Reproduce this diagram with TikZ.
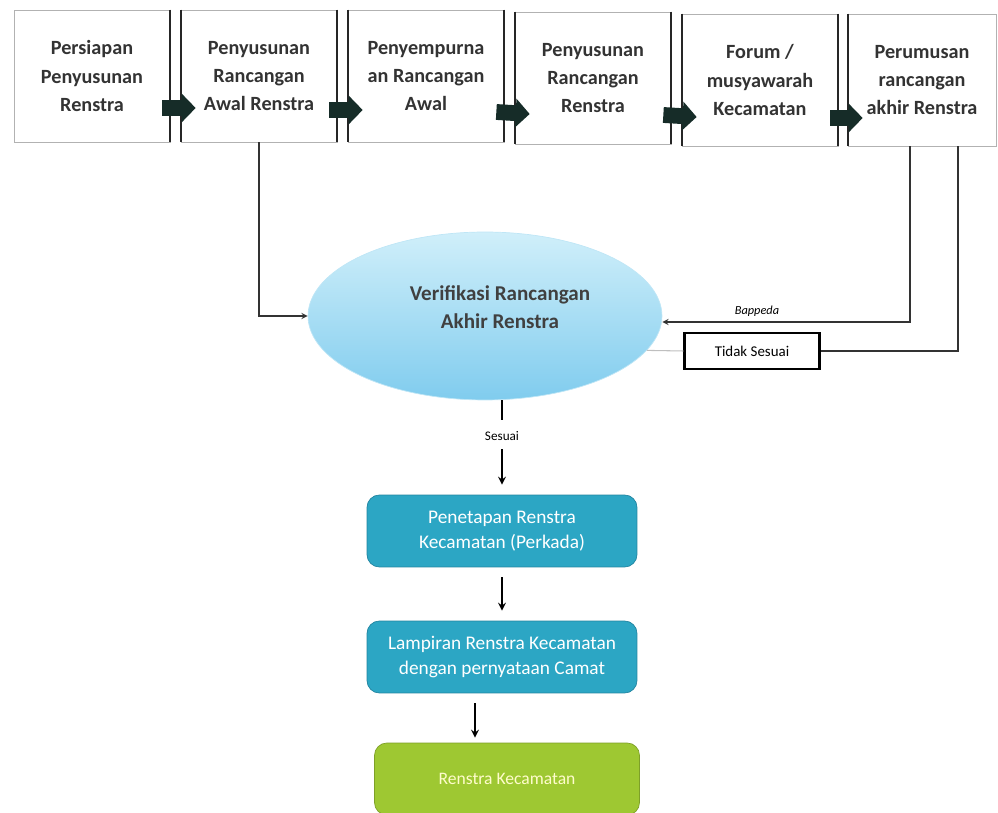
\documentclass[tikz,border=0pt]{standalone}
\usepackage{fontspec}
\setmainfont{Carlito}
\usetikzlibrary{calc}
\usetikzlibrary{shapes.geometric}
\usetikzlibrary{arrows.meta}
\definecolor{stepteal}{RGB}{44,166,196}
\definecolor{stepedge}{RGB}{34,132,160}
\definecolor{stepgreen}{RGB}{158,200,50}
\definecolor{verlight}{RGB}{208,239,250}
\definecolor{verdark}{RGB}{128,204,238}
\definecolor{pushcol}{RGB}{22,44,40}

\begin{document}
\begin{tikzpicture}[x=0.02cm, y=-0.02cm]
		\tikzstyle{phase} = [rectangle, draw=gray!60, minimum width=3.12cm, minimum height=2.64cm, inner sep=0pt, align=center, fill=white, font=\fontsize{11.5}{16}\selectfont\bfseries, text=black!80]
		\tikzstyle{wall} = [line width=1.1pt, black!85]
		\tikzstyle{push} = [line width=9pt, pushcol, -{Triangle[length=8pt, width=16pt]}]
		\tikzstyle{link} = [line width=0.6pt, black!80]
		\tikzstyle{flow} = [line width=1pt, -stealth, shorten <=0.2cm, shorten >=0.2cm]
		\tikzstyle{result} = [rectangle, rounded corners=7pt, draw=stepedge, fill=stepteal, minimum width=5.4cm, minimum height=1.44cm, inner sep=0pt, align=center, text=white, font=\fontsize{11}{14}\selectfont]
		\tikzstyle{small} = [inner sep=2pt, font=\fontsize{7.5}{9}\selectfont]
		
		\useasboundingbox (0,0) rectangle (998,813);
		
		\node [phase] (P1) at (92,76) {Persiapan \\ Penyusunan \\ Renstra};
		\node [phase] (P2) at (259,76) {Penyusunan \\ Rancangan \\ Awal Renstra};
		\node [phase] (P3) at (426,76) {Penyempurna \\ an Rancangan \\ Awal};
		\node [phase] (P4) at (593,78) {Penyusunan \\ Rancangan \\ Renstra};
		\node [phase] (P5) at (760,80) {Forum / \\ musyawarah \\ Kecamatan};
		\node [phase, minimum width=2.96cm] (P6) at (922,80) {Perumusan \\ rancangan \\ akhir Renstra};
		
		\draw [wall] (P1.north east) -- (P1.south east);
		\draw [wall] (P2.north west) -- (P2.south west);
		\draw [wall] (P2.north east) -- (P2.south east);
		\draw [wall] (P3.north west) -- (P3.south west);
		\draw [wall] (P3.north east) -- (P3.south east);
		\draw [wall] (P4.north west) -- (P4.south west);
		\draw [wall] (P4.north east) -- (P4.south east);
		\draw [wall] (P5.north west) -- (P5.south west);
		\draw [wall] (P5.north east) -- (P5.south east);
		\draw [wall] (P6.north west) -- (P6.south west);
		
		\draw [push] ($(P1.east)+(-8,32)$) to ($(P2.west)+(15,32)$);
		\draw [push] ($(P2.east)+(-8,34)$) to ($(P3.west)+(15,34)$);
		\draw [push] ($(P3.east)+(-8,36)$) to ($(P4.west)+(15,36)$);
		\draw [push] ($(P4.east)+(-8,37)$) to ($(P5.west)+(15,37)$);
		\draw [push] ($(P5.east)+(-8,38)$) to ($(P6.west)+(15,38)$);
		
		\node [ellipse, minimum width=7.08cm, minimum height=3.36cm, inner sep=0pt, top color=verlight, bottom color=verdark, draw=verdark!50] (V) at (485,316) {};
		\node [align=center, font=\fontsize{12}{16}\selectfont\bfseries, text=black!75] (Vt) at ($(V.center)+(15,-9)$) {Verifikasi Rancangan \\ Akhir Renstra};
		
		\draw [link, -stealth] (P2.south) |- (V.west);
		\draw [link, -stealth] ($(P6.south)+(-12,0)$) |- ($(V.east)+(0,6)$);
		\node [small, font=\fontsize{7}{9}\selectfont\itshape] (Bp) at (757,311) {Bappeda};
		
		\node [draw, line width=1.3pt, minimum width=2.7cm, minimum height=0.72cm, inner sep=0pt, font=\fontsize{8.5}{10}\selectfont] (T) at (752,351) {Tidak Sesuai};
		\draw [link] ($(P6.south)+(36,0)$) |- (T.east);
		\draw [gray!50, line width=0.6pt] (T.west) -- (V.-12);
		
		\node [small] (S) at (502,436) {Sesuai};
		\draw [line width=1pt, shorten >=0.15cm] ($(V.south)+(17,0)$) -- (S.north);
		
		\node [result] (A) at (502,531) {Penetapan Renstra \\ Kecamatan (Perkada)};
		\node [result] (B) at (502,657) {Lampiran Renstra Kecamatan \\ dengan pernyataan Camat};
		\node [result, fill=stepgreen, draw=stepgreen!80!black, minimum width=5.3cm, text=white!80!yellow, font=\fontsize{10}{12}\selectfont] (C) at (507,779) {Renstra Kecamatan};
		
		\draw [flow, shorten <=0.1cm] (S.south) -- (A.north);
		\draw [flow] (A.south) -- (B.north);
		\coordinate (Bout) at ($(B.south)+(-27,0)$);
		\draw [flow, shorten >=0.1cm] (Bout) -- (Bout |- C.north);
	\end{tikzpicture}
\end{document}
